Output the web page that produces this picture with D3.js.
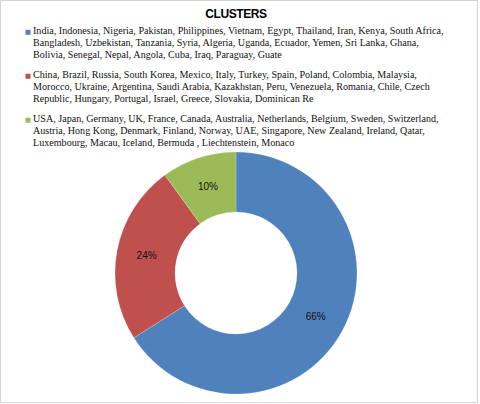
<!DOCTYPE html>
<html>
<head>
<meta charset="utf-8">
<script src="https://cdn.jsdelivr.net/npm/d3@7"></script>
<style>
  body { margin: 0; background: #fff; }
</style>
</head>
<body>
<script>
var Width = 480;
var Height = 404;

// the data
var Clusters = ["Cluster 1", "Cluster 2", "Cluster 3"];
var Shares = [66, 24, 10];
var Colors = ["#4F81BD", "#C0504D", "#9BBB59"];
var LegendLines = [
  ["India, Indonesia, Nigeria, Pakistan, Philippines, Vietnam, Egypt, Thailand, Iran, Kenya, South Africa,",
   "Bangladesh, Uzbekistan, Tanzania, Syria, Algeria, Uganda, Ecuador, Yemen, Sri Lanka, Ghana,",
   "Bolivia, Senegal, Nepal, Angola, Cuba, Iraq, Paraguay, Guate"],
  ["China, Brazil, Russia, South Korea, Mexico, Italy, Turkey, Spain, Poland, Colombia, Malaysia,",
   "Morocco, Ukraine, Argentina, Saudi Arabia, Kazakhstan, Peru, Venezuela, Romania, Chile, Czech",
   "Republic, Hungary, Portugal, Israel, Greece, Slovakia, Dominican Re"],
  ["USA, Japan, Germany, UK, France, Canada, Australia, Netherlands, Belgium, Sweden, Switzerland,",
   "Austria, Hong Kong, Denmark, Finland, Norway, UAE, Singapore, New Zealand, Ireland, Qatar,",
   "Luxembourg, Macau, Iceland, Bermuda , Liechtenstein, Monaco"]
];

function main () {
  var svg = d3.select("body").append("svg")
    .attr("width", Width)
    .attr("height", Height);

  // frame
  svg.append("rect")
    .attr("x", 0.5).attr("y", 0.5)
    .attr("width", 477).attr("height", 402)
    .attr("fill", "#fff")
    .attr("stroke", "#d4d4d4");

  svg.append("text")
    .attr("x", 236).attr("y", 17.5)
    .attr("text-anchor", "middle")
    .style("font-family", "Liberation Sans, Arial, sans-serif")
    .style("font-weight", "bold")
    .style("font-size", "12px")
    .style("letter-spacing", "-0.4px")
    .attr("fill", "#000")
    .text("CLUSTERS");

  makeLegend(svg);
  makeDonut(svg);
}

function makeLegend (svg) {
  var groupStep = 44, lineStep = 11.7;
  var g = svg.selectAll("g.legend")
    .data(LegendLines)
    .enter().append("g")
    .attr("class", "legend")
    .attr("transform", function(d, i) { return "translate(0," + (34.3 + i * groupStep) + ")"; });

  g.append("rect")
    .attr("x", 25.5).attr("y", -4.5)
    .attr("width", 5).attr("height", 5)
    .attr("fill", function(d, i) { return Colors[i]; });

  g.selectAll("text")
    .data(function(d) { return d; })
    .enter().append("text")
    .attr("x", 33)
    .attr("y", function(d, j) { return j * lineStep; })
    .style("font-family", "Liberation Serif, Times New Roman, serif")
    .style("font-size", "10.1px")
    .attr("fill", "#111")
    .text(function(d) { return d; });
}

function makeDonut (svg) {
  var cx = 236, cy = 273, outer = 121, inner = 61;

  var pie = d3.pie().sort(null).value(function(d) { return d; });
  var arc = d3.arc().innerRadius(inner).outerRadius(outer);

  var g = svg.append("g").attr("transform", "translate(" + cx + "," + cy + ")");
  var arcs = pie(Shares);

  g.selectAll("path.slice")
    .data(arcs)
    .enter().append("path")
    .attr("class", "slice")
    .attr("d", arc)
    .attr("fill", function(d, i) { return Colors[i]; })
    .attr("stroke", "#fff")
    .attr("stroke-opacity", 0.35)
    .attr("stroke-width", 0.6);

  g.selectAll("text.pct")
    .data(arcs)
    .enter().append("text")
    .attr("class", "pct")
    .attr("transform", function(d) { return "translate(" + arc.centroid(d) + ")"; })
    .attr("dy", "0.35em")
    .attr("text-anchor", "middle")
    .style("font-family", "Liberation Sans, Arial, sans-serif")
    .style("font-size", "10px")
    .attr("fill", "#111")
    .text(function(d) { return d.data + "%"; });
}

main();
</script>
</body>
</html>
